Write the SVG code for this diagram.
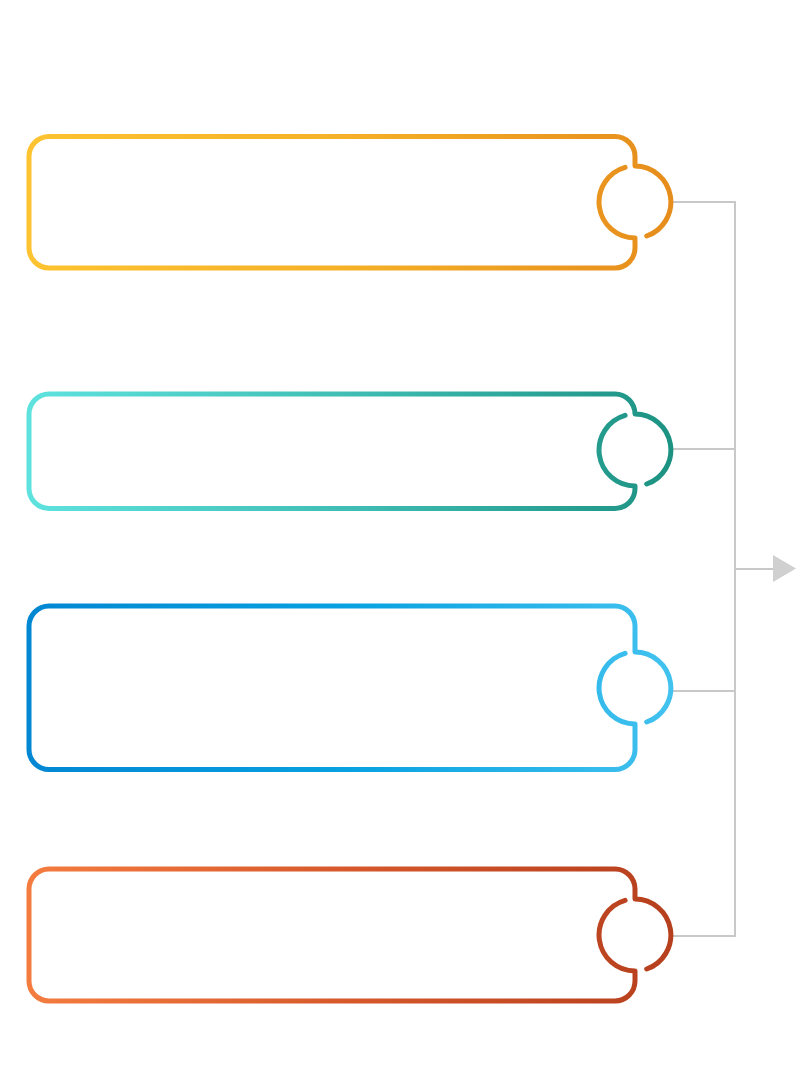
<svg xmlns="http://www.w3.org/2000/svg" width="809" height="1080" viewBox="0 0 809 1080">
<style>
.box{fill:none;stroke-width:5;stroke-linecap:round;stroke-linejoin:round}
.con{fill:none;stroke:#c8c8c8;stroke-width:2}
</style>
<defs>
<linearGradient id="g1" gradientUnits="userSpaceOnUse" x1="29" y1="0" x2="672" y2="0"><stop offset="0" stop-color="#FDC330"/><stop offset="0.5" stop-color="#F5B027"/><stop offset="1" stop-color="#E68D1C"/></linearGradient>
<linearGradient id="g2" gradientUnits="userSpaceOnUse" x1="29" y1="0" x2="672" y2="0"><stop offset="0" stop-color="#5EE2DE"/><stop offset="0.5" stop-color="#3FBDB4"/><stop offset="1" stop-color="#1C9282"/></linearGradient>
<linearGradient id="g3" gradientUnits="userSpaceOnUse" x1="29" y1="0" x2="672" y2="0"><stop offset="0" stop-color="#0287D2"/><stop offset="0.5" stop-color="#08A1E1"/><stop offset="1" stop-color="#42C2EF"/></linearGradient>
<linearGradient id="g4" gradientUnits="userSpaceOnUse" x1="29" y1="0" x2="672" y2="0"><stop offset="0" stop-color="#F47C3F"/><stop offset="0.5" stop-color="#D6582B"/><stop offset="1" stop-color="#B63F1D"/></linearGradient>
</defs>
<g id="connectors">
<line class="con" x1="672" y1="202" x2="735" y2="202"/>
<line class="con" x1="672" y1="449" x2="735" y2="449"/>
<line class="con" x1="672" y1="691" x2="735" y2="691"/>
<line class="con" x1="672" y1="936" x2="735" y2="936"/>
<line class="con" x1="735" y1="201" x2="735" y2="937"/>
<line class="con" x1="735" y1="569" x2="774" y2="569" stroke="#d0d0d0"/>
<polygon points="773,555 796,568.5 773,582" fill="#d0d0d0"/>
</g>
<g id="node1">
<path class="box" stroke="url(#g1)" d="M625.1,167.4 A36,36 0 0 0 635,238 L635,248 A20,20 0 0 1 615,268 L49,268 A20,20 0 0 1 29,248 L29,156.5 A20,20 0 0 1 49,136.5 L615,136.5 A20,20 0 0 1 635,156.5 L635,166 A36,36 0 0 1 646.7,236"/>
</g>
<g id="node2">
<path class="box" stroke="url(#g2)" d="M625.1,415.4 A36,36 0 0 0 635,486 L635,488.5 A20,20 0 0 1 615,508.5 L49,508.5 A20,20 0 0 1 29,488.5 L29,414 A20,20 0 0 1 49,394 L615,394 A20,20 0 0 1 635,414 L635,414 A36,36 0 0 1 646.7,484"/>
</g>
<g id="node3">
<path class="box" stroke="url(#g3)" d="M625.1,653.4 A36,36 0 0 0 635,724 L635,749.5 A20,20 0 0 1 615,769.5 L49,769.5 A20,20 0 0 1 29,749.5 L29,626 A20,20 0 0 1 49,606 L615,606 A20,20 0 0 1 635,626 L635,652 A36,36 0 0 1 646.7,722"/>
</g>
<g id="node4">
<path class="box" stroke="url(#g4)" d="M625.1,900.4 A36,36 0 0 0 635,971 L635,981 A20,20 0 0 1 615,1001 L49,1001 A20,20 0 0 1 29,981 L29,889 A20,20 0 0 1 49,869 L615,869 A20,20 0 0 1 635,889 L635,899 A36,36 0 0 1 646.7,969"/>
</g>
</svg>
